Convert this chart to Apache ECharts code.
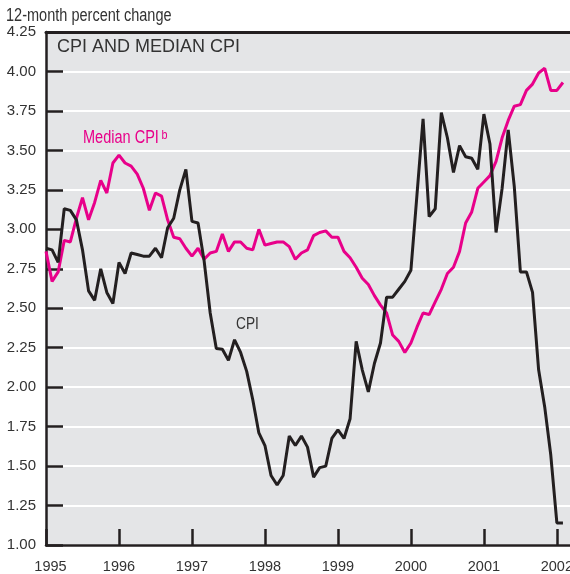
<!DOCTYPE html>
<html>
<head>
<meta charset="utf-8">
<script src="https://cdn.jsdelivr.net/npm/echarts@6/dist/echarts.min.js"></script>
<style>
  html, body { margin: 0; padding: 0; background: #fff; }
  #chart { width: 570px; height: 574px; }
</style>
</head>
<body>
<div id="chart"></div>
<script>
// monthly values, Jan 1995 .. Feb 2002
const startYear = 1995
const cpi = [
  2.88, 2.87, 2.79, 3.13, 3.12, 3.06, 2.87, 2.61, 2.55, 2.75, 2.60, 2.53,
  2.79, 2.72, 2.85, 2.84, 2.83, 2.83, 2.88, 2.82, 3.01, 3.07, 3.25, 3.38,
  3.05, 3.04, 2.80, 2.47, 2.245, 2.24, 2.17, 2.30, 2.22, 2.10, 1.92, 1.71,
  1.63, 1.44, 1.38, 1.44, 1.69, 1.63, 1.69, 1.62, 1.43, 1.49, 1.50, 1.675,
  1.73, 1.675, 1.80, 2.29, 2.11, 1.97, 2.15, 2.28, 2.57, 2.57, 2.62, 2.67,
  2.74, 3.22, 3.70, 3.08, 3.13, 3.74, 3.58, 3.36, 3.53, 3.46, 3.45, 3.38,
  3.73, 3.54, 2.98, 3.26, 3.63, 3.27, 2.73, 2.73, 2.60, 2.11, 1.875, 1.57,
  1.14, 1.14
]
const medianCpi = [
  2.86, 2.67, 2.73, 2.93, 2.92, 3.07, 3.20, 3.06, 3.17, 3.31, 3.23, 3.42,
  3.47, 3.42, 3.40, 3.35, 3.26, 3.12, 3.23, 3.21, 3.06, 2.95, 2.94, 2.88,
  2.83, 2.88, 2.81, 2.85, 2.86, 2.97, 2.86, 2.92, 2.92, 2.88, 2.87, 3.00,
  2.90, 2.91, 2.92, 2.92, 2.89, 2.81, 2.85, 2.87, 2.96, 2.98, 2.99, 2.95,
  2.95, 2.86, 2.82, 2.76, 2.69, 2.65, 2.58, 2.52, 2.47, 2.33, 2.29, 2.22,
  2.28, 2.38, 2.47, 2.46, 2.54, 2.62, 2.72, 2.76, 2.86, 3.04, 3.11, 3.26,
  3.30, 3.34, 3.43, 3.58, 3.69, 3.78, 3.79, 3.88, 3.92, 3.99, 4.02, 3.88,
  3.88, 3.93
]
const xTickLabels = ['1995', '1996', '1997', '1998', '1999', '2000', '2001', '2002']
const yTickLabels = ['1.00', '1.25', '1.50', '1.75', '2.00', '2.25', '2.50', '2.75',
  '3.00', '3.25', '3.50', '3.75', '4.00', '4.25']

const toPoints = arr => arr.map((v, i) => [startYear + i / 12, v])

const font = "'Liberation Sans', Arial, sans-serif"
const ink = '#231f20'
const magenta = '#e8008a'

var myChart = echarts.init(document.getElementById('chart'))
myChart.setOption({
  animation: false,
  grid: {
    left: 46,
    right: 0,
    top: 32,
    bottom: 29,
    outerBoundsMode: 'none',
    containLabel: false,
    show: true,
    backgroundColor: '#e4e5e7',
    borderWidth: 0
  },
  xAxis: [
    {
      type: 'value',
      min: 1995,
      max: 2002.18,
      interval: 1,
      axisLine: { show: true, onZero: false, lineStyle: { color: ink, width: 2.5 } },
      axisTick: { show: true, inside: true, length: 16, lineStyle: { color: ink, width: 2.5 } },
      splitLine: { show: false },
      axisLabel: {
        margin: 14,
        color: '#333',
        fontFamily: font,
        fontSize: 14.5,
        formatter: function (v) {
          const i = Math.round(v - startYear)
          if (i === 0) return '{first|' + xTickLabels[i] + '}'
          return xTickLabels[i] || ''
        },
        rich: {
          first: { padding: [0, 0, 0, 9], fontFamily: font, fontSize: 14.5, color: '#333' }
        }
      }
    },
    {
      type: 'value',
      position: 'top',
      min: 1995,
      max: 2002.18,
      axisLine: { show: true, onZero: false, lineStyle: { color: ink, width: 3 } },
      axisTick: { show: false },
      axisLabel: { show: false },
      splitLine: { show: false }
    }
  ],
  yAxis: {
    type: 'value',
    min: 1,
    max: 4.25,
    interval: 0.25,
    axisLine: { show: true, lineStyle: { color: ink, width: 2.5 } },
    axisTick: { show: true, inside: true, length: 17, lineStyle: { color: ink, width: 2.5 } },
    splitLine: { show: true, lineStyle: { color: '#ffffff', width: 2 } },
    axisLabel: {
      margin: 10,
      color: '#333',
      fontFamily: font,
      fontSize: 15,
      formatter: function (v) {
        return yTickLabels[Math.round((v - 1) / 0.25)] || ''
      }
    }
  },
  graphic: [
    {
      type: 'text',
      x: 6,
      y: 7,
      scaleX: 0.83,
      style: { text: '12-month percent change', fill: '#333', font: '17.5px ' + font }
    },
    {
      type: 'text',
      x: 57,
      y: 38,
      style: { text: 'CPI AND MEDIAN CPI', fill: '#333', font: '18px ' + font }
    },
    {
      type: 'text',
      x: 83,
      y: 129,
      scaleX: 0.83,
      style: {
        text: '{m|Median CPI}{s|b}',
        rich: {
          m: { fill: magenta, font: '17.5px ' + font, verticalAlign: 'bottom' },
          s: { fill: magenta, font: '13px ' + font, verticalAlign: 'top', padding: [0, 0, 0, 3] }
        }
      }
    },
    {
      type: 'text',
      x: 236,
      y: 316,
      scaleX: 0.83,
      style: { text: 'CPI', fill: '#333', font: '16.5px ' + font }
    }
  ],
  series: [
    {
      name: 'Median CPI',
      type: 'line',
      data: toPoints(medianCpi),
      symbol: 'none',
      lineStyle: { color: magenta, width: 3 },
      z: 2
    },
    {
      name: 'CPI',
      type: 'line',
      data: toPoints(cpi),
      symbol: 'none',
      lineStyle: { color: ink, width: 3 },
      z: 3
    }
  ]
})
</script>
</body>
</html>
